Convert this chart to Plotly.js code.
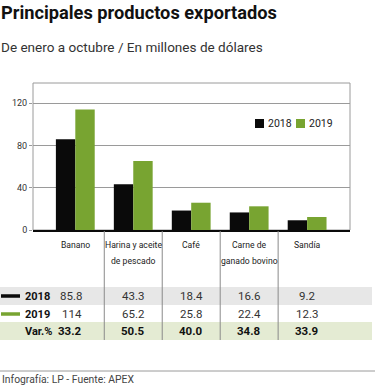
<!DOCTYPE html>
<html>
<head>
<meta charset="utf-8">
<script src="https://cdn.plot.ly/plotly-3.0.1.min.js"></script>
<style>html,body{margin:0;padding:0;background:#fff}#chart{width:375px;height:387px}</style>
</head>
<body>
<div id="chart"></div>
<script>
// ---- data ----
var categories = ['Banano', 'Harina y aceite de pescado', 'Café', 'Carne de ganado bovino', 'Sandía'];
var categoryLabelLines = [['Banano'], ['Harina y aceite', 'de pescado'], ['Café'], ['Carne de', 'ganado bovino'], ['Sandía']];
var seriesNames = ['2018', '2019'];
var values2018 = [85.8, 43.3, 18.4, 16.6, 9.2];
var values2019 = [114, 65.2, 25.8, 22.4, 12.3];
var varPct = [33.2, 50.5, 40.0, 34.8, 33.9];
var yTicks = [0, 40, 80, 120];
var titleText = 'Principales productos exportados';
var subtitleText = 'De enero a octubre / En millones de dólares';
var footerText = 'Infografía: LP - Fuente: APEX';

// ---- styles ----
var W = 375, H = 387;
var BLACK = '#0a0a0a', GREEN = '#78a431';
var FAM = 'Roboto';
var FONT = 'Roboto, "Liberation Sans", sans-serif';
function px(p) { return p / W; }
function py(p) { return 1 - p / H; }

var ctx = document.createElement('canvas').getContext('2d');
function fit(text, weight, target, maxSize) {
  ctx.font = weight + ' 100px ' + FAM;
  var w = ctx.measureText(text).width;
  return Math.min(maxSize, 100 * target / w);
}

var traces = [
  {type: 'bar', name: seriesNames[0], x: categories, y: values2018, marker: {color: BLACK}, hoverinfo: 'skip'},
  {type: 'bar', name: seriesNames[1], x: categories, y: values2019, marker: {color: GREEN}, hoverinfo: 'skip'}
];

var shapes = [];
var annotations = [];

// plot frame
shapes.push({type: 'rect', xref: 'x domain', yref: 'y domain', x0: 0, x1: 1, y0: 0, y1: 1,
  line: {color: '#9a9a9a', width: 1}, layer: 'below'});
// table bands
shapes.push({type: 'rect', xref: 'paper', yref: 'paper', x0: 0, x1: px(372), y0: py(287), y1: py(305),
  fillcolor: '#e7e7e7', line: {width: 0}, layer: 'below'});
shapes.push({type: 'rect', xref: 'paper', yref: 'paper', x0: 0, x1: px(372), y0: py(322), y1: py(340),
  fillcolor: '#e4ebd3', line: {width: 0}, layer: 'below'});
// column dividers
for (var i = 0; i < categories.length - 1; i++) {
  shapes.push({type: 'line', xref: 'x', yref: 'paper', x0: i + 0.5, x1: i + 0.5, y0: py(231), y1: py(340),
    line: {color: '#8a8a8a', width: 1}});
}
// row markers
shapes.push({type: 'line', xref: 'paper', yref: 'paper', x0: px(1), x1: px(20), y0: py(296), y1: py(296),
  line: {color: BLACK, width: 3.5}});
shapes.push({type: 'line', xref: 'paper', yref: 'paper', x0: px(1), x1: px(20), y0: py(314), y1: py(314),
  line: {color: GREEN, width: 3.5}});
// footer rule
shapes.push({type: 'line', xref: 'paper', yref: 'paper', x0: 0, x1: 1, y0: py(371), y1: py(371),
  line: {color: '#9a9a9a', width: 1}});
// legend squares
shapes.push({type: 'rect', xref: 'paper', yref: 'paper', x0: px(255), x1: px(264), y0: py(128), y1: py(119),
  fillcolor: BLACK, line: {width: 0}});
shapes.push({type: 'rect', xref: 'paper', yref: 'paper', x0: px(296), x1: px(305), y0: py(128), y1: py(119),
  fillcolor: GREEN, line: {width: 0}});

function ann(text, x, y, xanchor, font) {
  annotations.push({text: text, xref: 'paper', yref: 'paper', x: x, y: y, xanchor: xanchor, yanchor: 'middle',
    showarrow: false, font: font});
}
// titles
ann('<b>' + titleText + '</b>', px(-1), py(12), 'left', {family: FONT, size: fit(titleText, 'bold', 276, 21), color: '#111'});
ann(subtitleText, px(-1), py(47), 'left', {family: FONT, size: fit(subtitleText, 'normal', 262, 14), color: '#333'});
ann(footerText, px(0), py(379), 'left', {family: FONT, size: fit(footerText, 'normal', 132, 12), color: '#444'});
// legend labels
ann(seriesNames[0], px(266), py(124), 'left', {family: FONT, size: 10.5, color: '#222'});
ann(seriesNames[1], px(307), py(124), 'left', {family: FONT, size: 10.5, color: '#222'});

// category labels: one line per annotation, placed on the category axis
var catSize = 11;
categoryLabelLines.forEach(function (lines) {
  lines.forEach(function (l) { catSize = Math.min(catSize, fit(l, 'normal', 57, 11)); });
});
var lineY = [245, 261];
categoryLabelLines.forEach(function (lines, j) {
  lines.forEach(function (l, k) {
    annotations.push({text: l, xref: 'x', yref: 'paper', x: categories[j], y: py(lineY[k]),
      xanchor: 'center', yanchor: 'middle', showarrow: false,
      font: {family: FONT, size: catSize, color: '#222'}});
  });
});

// table
var rows = [
  {label: seriesNames[0], vals: values2018.map(function (v) { return String(v); }), y: 296, bold: false},
  {label: seriesNames[1], vals: values2019.map(function (v) { return String(v); }), y: 314, bold: false},
  {label: 'Var.%', vals: varPct.map(function (v) { return v.toFixed(1); }), y: 331, bold: true}
];
rows.forEach(function (r) {
  ann('<b>' + r.label + '</b>', px(23), py(r.y), 'left', {family: FONT, size: 11, color: '#111'});
  r.vals.forEach(function (t, j) {
    annotations.push({text: r.bold ? '<b>' + t + '</b>' : t, xref: 'x', yref: 'paper', x: categories[j],
      y: py(r.y), xanchor: j === 0 ? 'right' : 'center', xshift: j === 0 ? 9 : 0, yanchor: 'middle',
      showarrow: false, font: {family: FONT, size: 11.5, color: r.bold ? '#111' : '#333'}});
  });
});

var layout = {
  width: W, height: H,
  margin: {l: 0, r: 0, t: 0, b: 0},
  paper_bgcolor: '#fff', plot_bgcolor: '#fff',
  showlegend: false,
  barmode: 'group', bargap: 0.33, bargroupgap: 0,
  xaxis: {
    domain: [px(33), px(350)], type: 'category', range: [-0.73, 4.74],
    showticklabels: false, ticks: '', showgrid: false, showline: true, linecolor: BLACK, linewidth: 2,
    fixedrange: true
  },
  yaxis: {
    domain: [py(230), py(83)], range: [0, 139], tickvals: yTicks,
    ticks: 'outside', ticklen: 3, tickcolor: '#9a9a9a',
    showgrid: true, gridcolor: '#9a9a9a', gridwidth: 1, zeroline: false,
    showline: false, tickfont: {family: FONT, size: 9, color: '#333'}, fixedrange: true
  },
  shapes: shapes,
  annotations: annotations
};

Plotly.newPlot('chart', traces, layout, {displayModeBar: false, staticPlot: true});
</script>
</body>
</html>
